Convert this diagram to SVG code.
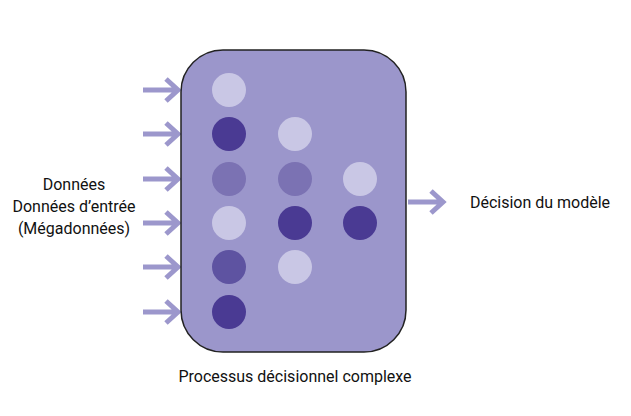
<svg xmlns="http://www.w3.org/2000/svg" width="631" height="416" viewBox="0 0 631 416">
<style>
.a{stroke:#9c97cc;stroke-width:5;fill:none}
.t{font-family:"Roboto","Liberation Sans",sans-serif;font-size:16px;fill:#111}
.l{fill:#c9c7e5}.d{fill:#4a3a93}.m{fill:#7b72b3}.md{fill:#5e53a1}
</style>
<rect width="631" height="416" fill="#fff"/>
<g id="connectors">
<g class="a">
<path d="M143 90H178M166 79L178 90L166 101"/>
<path d="M143 134H178M166 123L178 134L166 145"/>
<path d="M143 179H178M166 168L178 179L166 190"/>
<path d="M143 223H178M166 212L178 223L166 234"/>
<path d="M143 267H178M166 256L178 267L166 278"/>
<path d="M143 312H178M166 301L178 312L166 323"/>
<path d="M408 202H443M431 191L443 202L431 213"/>
</g>
</g>
<g id="process">
<rect x="181" y="50" width="225" height="302" rx="42" fill="#9b96cb" stroke="#222" stroke-width="1.5"/>
<circle class="l" cx="229" cy="90" r="17"/>
<circle class="d" cx="229" cy="134" r="17"/>
<circle class="m" cx="229" cy="179" r="17"/>
<circle class="l" cx="229" cy="223" r="17"/>
<circle class="md" cx="229" cy="267" r="17"/>
<circle class="d" cx="229" cy="312" r="17"/>
<circle class="l" cx="295" cy="134" r="17"/>
<circle class="m" cx="295" cy="179" r="17"/>
<circle class="d" cx="295" cy="223" r="17"/>
<circle class="l" cx="295" cy="267" r="17"/>
<circle class="l" cx="360" cy="179" r="17"/>
<circle class="d" cx="360" cy="223" r="17"/>
<text class="t" x="295" y="382" text-anchor="middle">Processus décisionnel complexe</text>
</g>
<g id="input">
<text class="t" x="74" y="190" text-anchor="middle">Données</text>
<text class="t" x="74" y="212" text-anchor="middle">Données d’entrée</text>
<text class="t" x="74" y="234" text-anchor="middle">(Mégadonnées)</text>
</g>
<g id="output">
<text class="t" x="540" y="208" text-anchor="middle">Décision du modèle</text>
</g>
</svg>
